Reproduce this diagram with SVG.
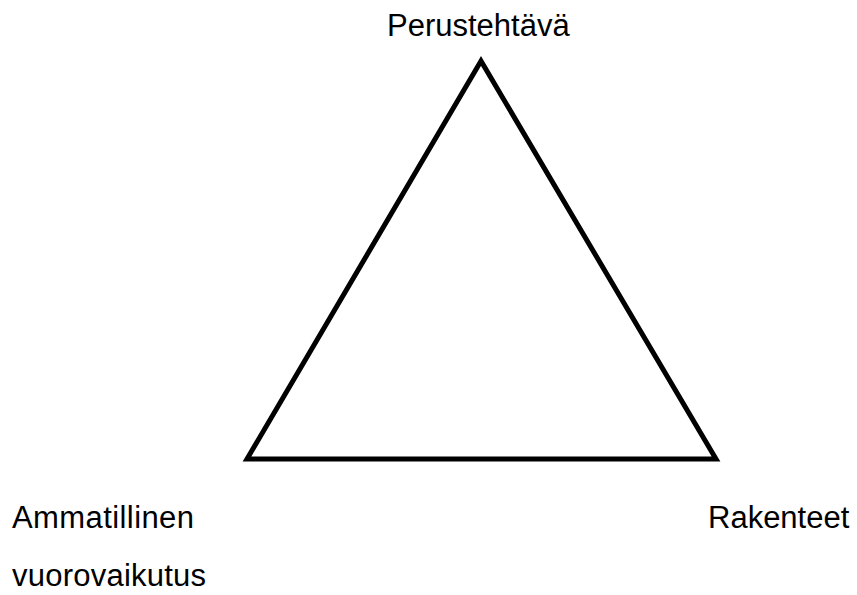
<svg xmlns="http://www.w3.org/2000/svg" width="857" height="595" viewBox="0 0 857 595">
<style>
  .lbl { font-family: "Liberation Sans", Arial, sans-serif; font-size: 31px; fill: #000; }
  .tri { fill: none; stroke: #000; stroke-width: 5; stroke-linejoin: miter; }
</style>
<rect width="857" height="595" fill="#fff"/>
<g id="connectors">
  <polygon class="tri" points="481,61 247,459 716,459"/>
</g>
<g id="node-perustehtava"><text class="lbl" x="387" y="36">Perustehtävä</text></g>
<g id="node-ammatillinen"><text class="lbl" x="12" y="528" textLength="182">Ammatillinen</text><text class="lbl" x="12" y="586" textLength="194">vuorovaikutus</text></g>
<g id="node-rakenteet"><text class="lbl" x="708" y="528">Rakenteet</text></g>
</svg>
